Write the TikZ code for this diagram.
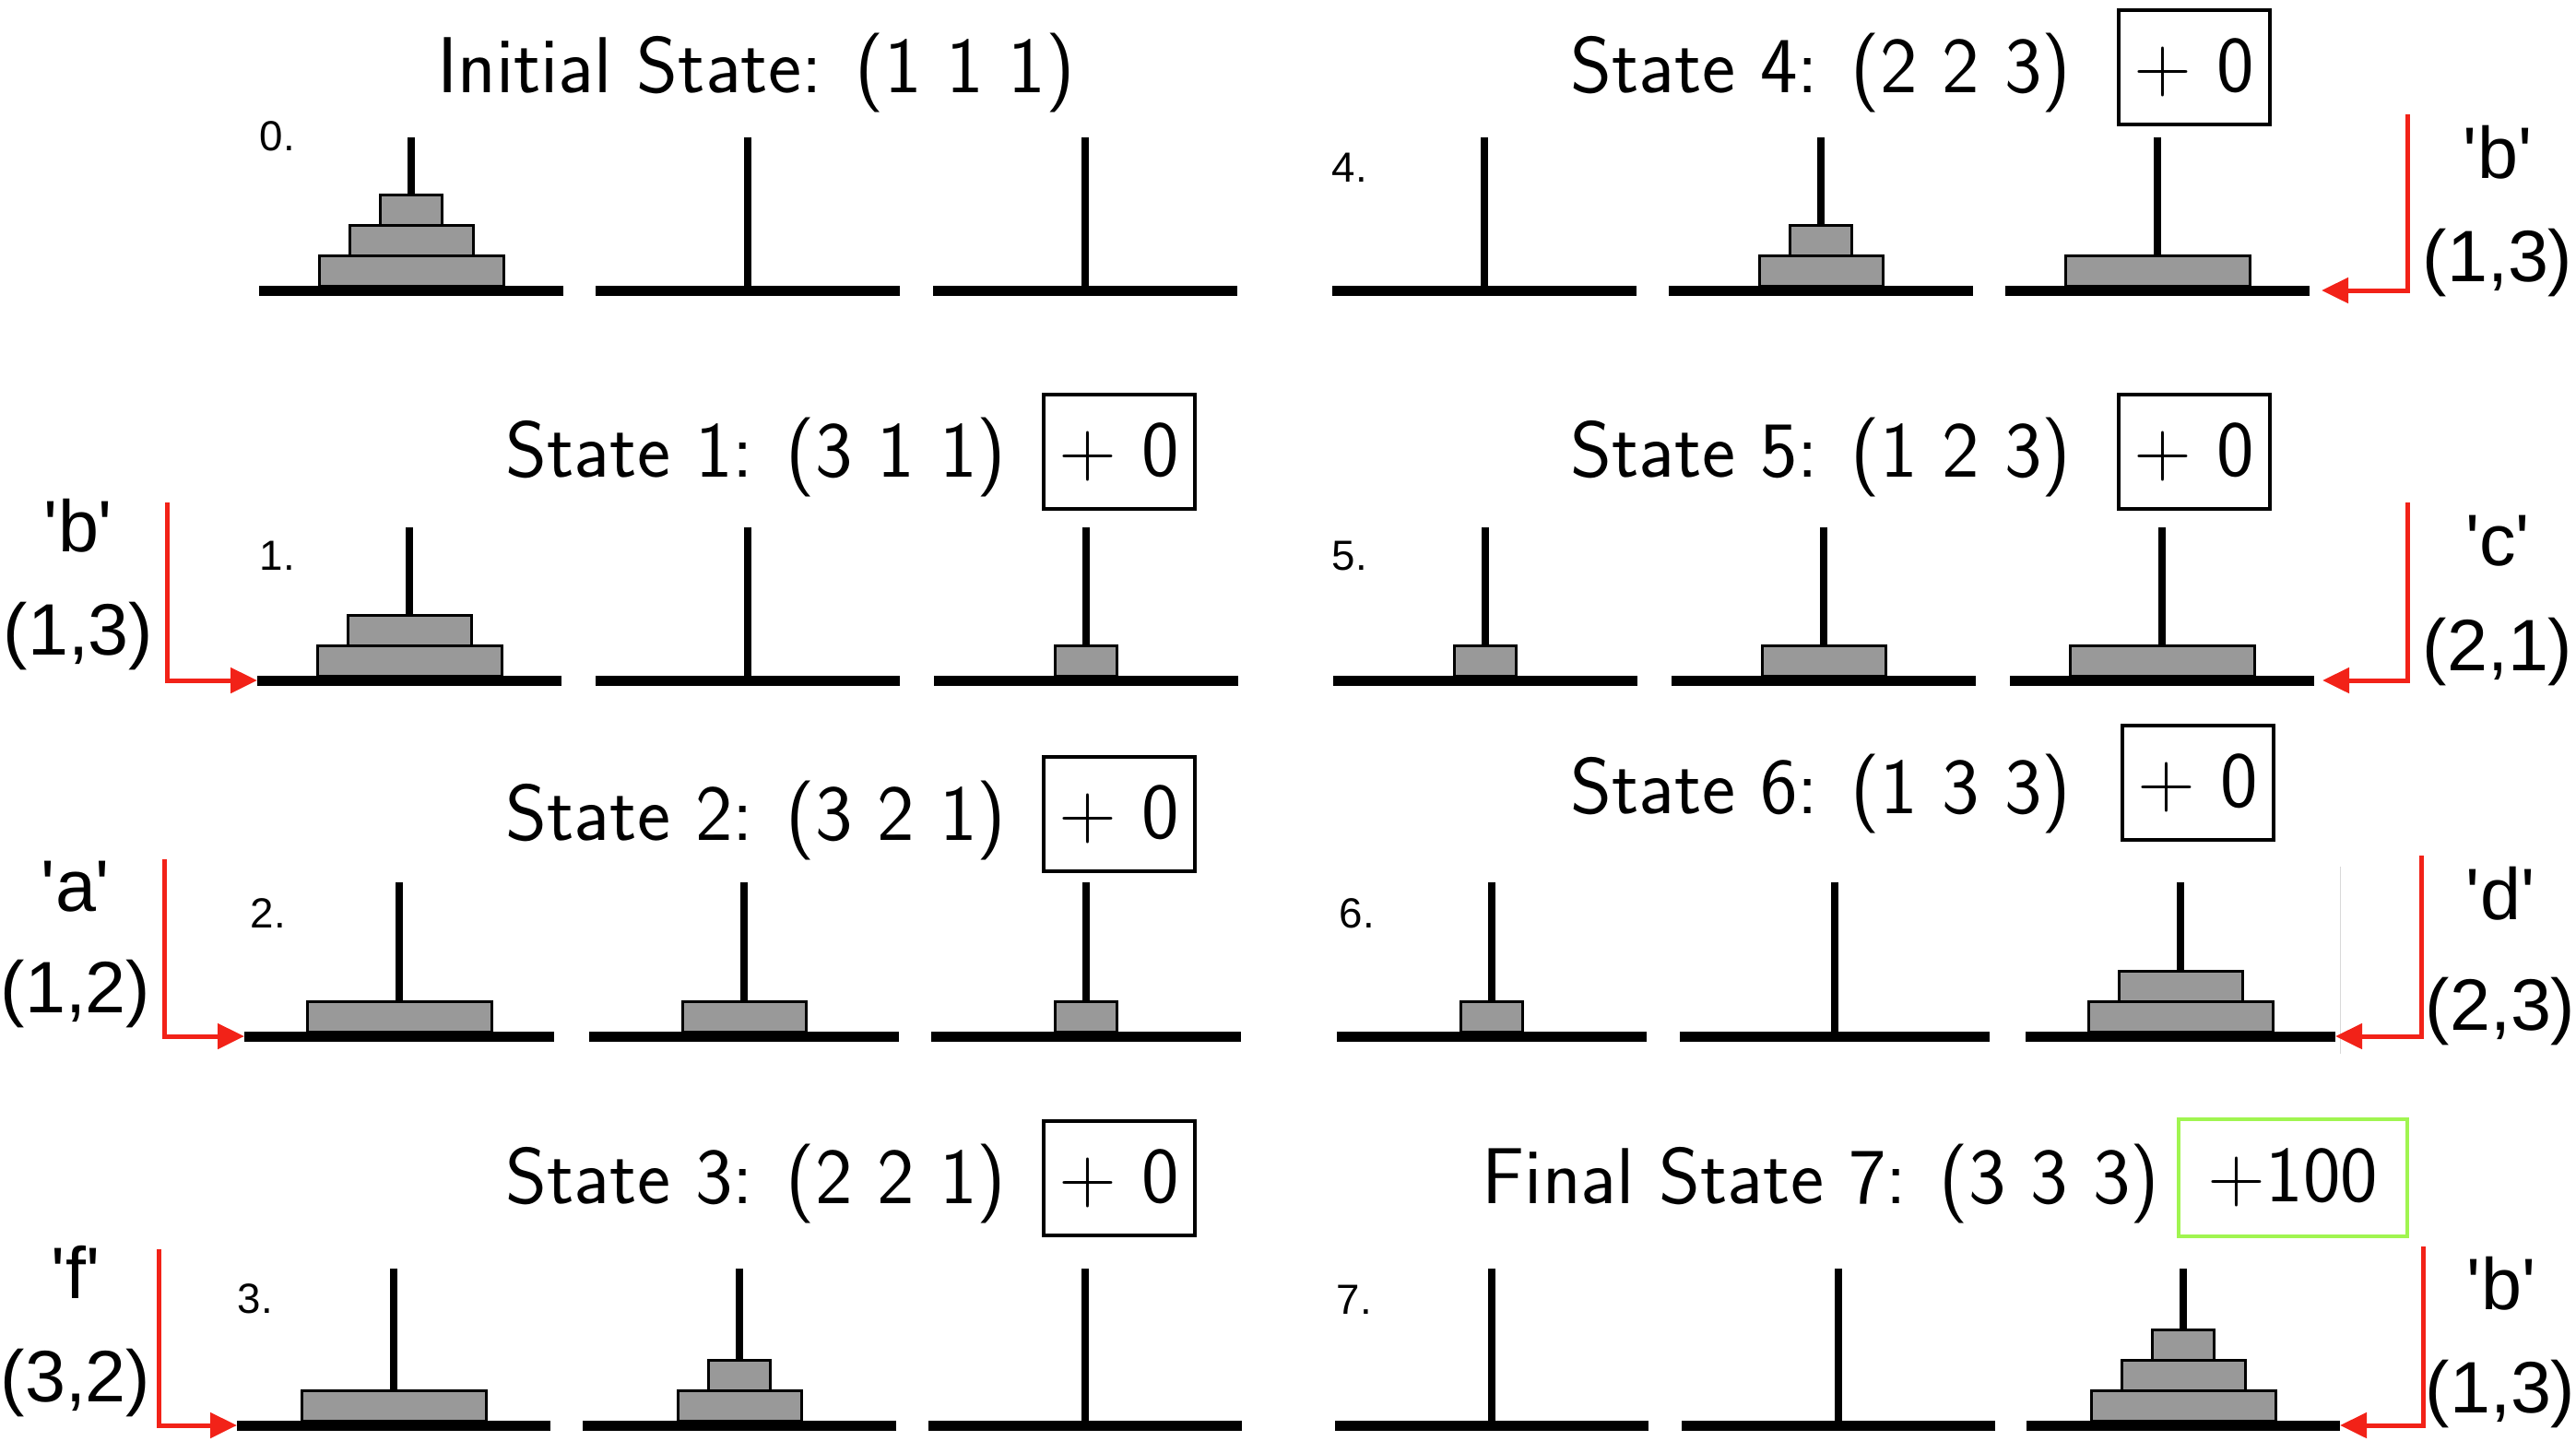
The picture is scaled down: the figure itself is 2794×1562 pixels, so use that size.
\documentclass[tikz,border=0pt]{standalone}
\usepackage{fontspec}
\newfontfamily\lbl{Liberation Sans}
\usetikzlibrary{arrows.meta}
\definecolor{diskgray}{RGB}{153,153,153}
\definecolor{movered}{RGB}{242,34,24}
\definecolor{goalgreen}{RGB}{160,245,80}

\begin{document}
\begin{tikzpicture}[x=0.1mm,y=-0.1mm,
  title/.style={anchor=base,inner sep=0,font=\sffamily\fontsize{24.5}{29}\selectfont},
  reward/.style={draw,line width=0.4mm,inner sep=0,minimum width=16.4mm,minimum height=12.4mm,font=\sffamily\fontsize{24.5}{29}\selectfont},
  num/.style={anchor=base west,inner sep=0,font=\lbl\fontsize{13}{15}\selectfont},
  act/.style={anchor=base,inner sep=0,font=\lbl\fontsize{22.5}{27}\selectfont},
  base/.style={fill=black,inner sep=0,outer sep=0,minimum width=33mm,minimum height=1.1mm},
  peg/.style={line width=0.75mm},
  disk/.style={draw,line width=0.3mm,fill=diskgray,inner sep=0,outer sep=0,anchor=south,minimum height=3.3mm},
  disk1/.style={disk,minimum width=6.7mm},
  disk2/.style={disk,minimum width=13.4mm},
  disk3/.style={disk,minimum width=20mm},
  move/.style={movered,line width=0.5mm,-{Triangle[length=2.9mm,width=2.7mm]}}]
\useasboundingbox (0,0) rectangle (2794,1562);

% state 0
\node[title] (t0) at (820,100) {Initial State: (1 1 1)};
\node[num] (n0) at (281,163) {0.};
\foreach \i/\px in {1/446,2/811,3/1177} {
  \node[base] (b0-\i) at (\px,315) {};
  \draw[peg] (b0-\i) -- ++(0,-166);
}
\node[disk3] (d0-3) at (446,310) {};
\node[disk2] (d0-2) at (446,277) {};
\node[disk1] (d0-1) at (446,244) {};

% state 1
\node[title] (t1) at (820,517) {State 1: (3 1 1)};
\node[reward] (r1) at (1214,490) {+ 0};
\node[num] (n1) at (281,618) {1.};
\foreach \i/\px in {1/444,2/811,3/1178} {
  \node[base] (b1-\i) at (\px,738) {};
  \draw[peg] (b1-\i) -- ++(0,-166);
}
\node[disk3] (d1-3) at (444,733) {};
\node[disk2] (d1-2) at (444,700) {};
\node[disk1] (d1-1) at (1178,733) {};
\node[act] (m1) at (85,598) {\textquotesingle b\textquotesingle};
\node[act] (p1) at (85,710) {(1,3)};
\coordinate (s1) at (181,545);
\draw[move] (s1) |- (b1-1.west);

% state 2
\node[title] (t2) at (820,911) {State 2: (3 2 1)};
\node[reward] (r2) at (1214,883) {+ 0};
\node[num] (n2) at (271,1006) {2.};
\foreach \i/\px in {1/433,2/807,3/1178} {
  \node[base,minimum width=33.6mm] (b2-\i) at (\px,1124) {};
  \draw[peg] (b2-\i) -- ++(0,-167);
}
\node[disk3] (d2-3) at (433,1119) {};
\node[disk2] (d2-2) at (807,1119) {};
\node[disk1] (d2-1) at (1178,1119) {};
\node[act] (m2) at (82,988) {\textquotesingle a\textquotesingle};
\node[act] (p2) at (82,1098) {(1,2)};
\coordinate (s2) at (178,932);
\draw[move] (s2) |- (b2-1.west);

% state 3
\node[title] (t3) at (820,1305) {State 3: (2 2 1)};
\node[reward] (r3) at (1214,1278) {+ 0};
\node[num] (n3) at (257,1424) {3.};
\foreach \i/\px in {1/427,2/802,3/1177} {
  \node[base,minimum width=34mm] (b3-\i) at (\px,1546) {};
  \draw[peg] (b3-\i) -- ++(0,-170);
}
\node[disk3] (d3-3) at (427,1541) {};
\node[disk2] (d3-2) at (802,1541) {};
\node[disk1] (d3-1) at (802,1508) {};
\node[act] (m3) at (82,1408) {\textquotesingle f\textquotesingle};
\node[act] (p3) at (82,1520) {(3,2)};
\coordinate (s3) at (172,1355);
\draw[move] (s3) |- (b3-1.west);

% state 4
\node[title] (t4) at (1975,100) {State 4: (2 2 3)};
\node[reward] (r4) at (2380,73) {+ 0};
\node[num] (n4) at (1444,197) {4.};
\foreach \i/\px in {1/1610,2/1975,3/2340} {
  \node[base] (b4-\i) at (\px,315) {};
  \draw[peg] (b4-\i) -- ++(0,-166);
}
\node[disk3] (d4-3) at (2340,310) {};
\node[disk2] (d4-2) at (1975,310) {};
\node[disk1] (d4-1) at (1975,277) {};
\node[act] (m4) at (2709,193) {\textquotesingle b\textquotesingle};
\node[act] (p4) at (2709,305) {(1,3)};
\coordinate (s4) at (2611,124);
\draw[move] (s4) |- ([xshift=1.3mm]b4-3.east);

% state 5
\node[title] (t5) at (1975,517) {State 5: (1 2 3)};
\node[reward] (r5) at (2380,490) {+ 0};
\node[num] (n5) at (1444,618) {5.};
\foreach \i/\px in {1/1611,2/1978,3/2345} {
  \node[base] (b5-\i) at (\px,738) {};
  \draw[peg] (b5-\i) -- ++(0,-166);
}
\node[disk3] (d5-3) at (2345,733) {};
\node[disk2] (d5-2) at (1978,733) {};
\node[disk1] (d5-1) at (1611,733) {};
\node[act] (m5) at (2709,613) {\textquotesingle c\textquotesingle};
\node[act] (p5) at (2709,727) {(2,1)};
\coordinate (s5) at (2611,545);
\draw[move] (s5) |- ([xshift=0.9mm]b5-3.east);

% state 6
\node[title] (t6) at (1975,882) {State 6: (1 3 3)};
\node[reward] (r6) at (2384,849) {+ 0};
\node[num] (n6) at (1452,1006) {6.};
\foreach \i/\px in {1/1618,2/1990,3/2365} {
  \node[base,minimum width=33.6mm] (b6-\i) at (\px,1124) {};
  \draw[peg] (b6-\i) -- ++(0,-167);
}
\node[disk3] (d6-3) at (2365,1119) {};
\node[disk2] (d6-2) at (2365,1086) {};
\node[disk1] (d6-1) at (1618,1119) {};
\draw[gray!30,line width=0.1mm] (2538,940) -- (2538,1143);
\node[act] (m6) at (2712,997) {\textquotesingle d\textquotesingle};
\node[act] (p6) at (2712,1117) {(2,3)};
\coordinate (s6) at (2626,928);
\draw[move] (s6) |- (b6-3.east);

% state 7
\node[title] (t7) at (1975,1305) {Final State 7: (3 3 3)};
\node[reward,draw=goalgreen,minimum width=24.8mm,minimum height=12.7mm] (r7) at (2487,1277) {+100};
\node[num] (n7) at (1449,1425) {7.};
\foreach \i/\px in {1/1618,2/1994,3/2368} {
  \node[base,minimum width=34mm] (b7-\i) at (\px,1546) {};
  \draw[peg] (b7-\i) -- ++(0,-170);
}
\node[disk3] (d7-3) at (2368,1541) {};
\node[disk2] (d7-2) at (2368,1508) {};
\node[disk1] (d7-1) at (2368,1475) {};
\node[act] (m7) at (2713,1420) {\textquotesingle b\textquotesingle};
\node[act] (p7) at (2712,1532) {(1,3)};
\coordinate (s7) at (2628,1352);
\draw[move] (s7) |- (b7-3.east);
\end{tikzpicture}
\end{document}
